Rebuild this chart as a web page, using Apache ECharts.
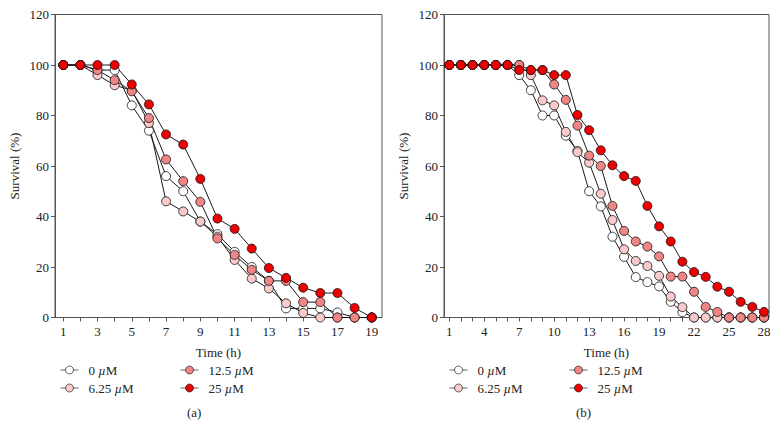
<!DOCTYPE html>
<html>
<head>
<meta charset="utf-8">
<script src="https://cdn.jsdelivr.net/npm/echarts@6/dist/echarts.min.js"></script>
<style>
  html, body { margin: 0; padding: 0; background: #fff; }
  #chart { width: 778px; height: 427px; }
</style>
</head>
<body>
<div id="chart"></div>
<script>
// hours on the x axis
const hoursA = [1, 2, 3, 4, 5, 6, 7, 8, 9, 10, 11, 12, 13, 14, 15, 16, 17, 18, 19]
const hoursB = [1, 2, 3, 4, 5, 6, 7, 8, 9, 10, 11, 12, 13, 14, 15, 16, 17, 18, 19, 20, 21, 22, 23, 24, 25, 26, 27, 28]

// survival (%)
const survA0 = [100, 100, 98, 98, 84, 74, 56, 50, 38, 33, 26, 20, 14.5, 3.6, 3.6, 3.6, 2, 0, 0]
const survA6 = [100, 100, 96, 92, 90, 77, 46, 42, 38, 32, 22.8, 15.4, 11.5, 5.6, 1.8, 0, 0, 0, 0]
const survA12 = [100, 100, 98, 94, 89.6, 79, 62.6, 54, 45.8, 31.3, 24.8, 18.9, 14.5, 14.5, 6.1, 6.1, 0, 0, 0]
const survA25 = [100, 100, 100, 100, 92.3, 84.4, 72.5, 68.5, 54.9, 39.2, 35.1, 27.3, 19.6, 15.7, 11.8, 9.7, 9.7, 3.8, 0]

// survival (%)
const survB0 = [100, 100, 100, 100, 100, 100, 96, 90, 80, 80, 72, 66, 50, 44, 32, 24, 16, 14, 12.3, 6.2, 2.1, 0, 0, 0, 0, 0, 0, 0]
const survB6 = [100, 100, 100, 100, 100, 100, 100, 96, 86, 84, 73.5, 65.5, 61.3, 49, 38.6, 27, 22.4, 20.4, 16.5, 8.3, 4.1, 0, 0, 0, 0, 0, 0, 0]
const survB12 = [100, 100, 100, 100, 100, 100, 100, 98, 98, 92.3, 86.2, 76, 64.1, 60, 44.2, 34.3, 30.1, 28.1, 24.2, 16.2, 16.2, 10.2, 4.2, 2.2, 0, 0, 0, 0]
const survB25 = [100, 100, 100, 100, 100, 100, 98, 98, 98, 96, 96, 80.2, 74.2, 66.2, 60.3, 56, 54.1, 44.2, 36.1, 30.1, 22.1, 18, 16.1, 12.2, 10.2, 6.2, 4.2, 2.2]

const doses = ['0 µM', '6.25 µM', '12.5 µM', '25 µM']
const fills = ['#ffffff', '#f9caca', '#f08585', '#ec0000']

// tick labels
const xTicksA = [1, 3, 5, 7, 9, 11, 13, 15, 17, 19]
const xTicksB = [1, 4, 7, 10, 13, 16, 19, 22, 25, 28]
const yTicks = [0, 20, 40, 60, 80, 100, 120]

const font = 'Liberation Serif'
const axisColor = '#555'

const pairs = (xs, ys) => xs.map((x, i) => [x, ys[i]])

const makeXAxis = (gridIndex, min, max, hours, labels) => ({
  type: 'value',
  gridIndex,
  min,
  max,
  name: 'Time (h)',
  nameLocation: 'middle',
  nameGap: 28,
  nameTextStyle: { fontFamily: font, fontSize: 13, fontWeight: 'normal', color: '#222' },
  axisLine: { lineStyle: { color: axisColor } },
  axisTick: { length: 4, lineStyle: { color: axisColor }, customValues: hours },
  axisLabel: { customValues: labels, margin: 7, fontFamily: font, fontSize: 13, color: '#222' },
  splitLine: { show: false }
})

const makeYAxis = (gridIndex) => ({
  type: 'value',
  gridIndex,
  min: yTicks[0],
  max: yTicks[yTicks.length - 1],
  interval: 20,
  name: 'Survival (%)',
  nameLocation: 'middle',
  nameGap: 34,
  nameTextStyle: { fontFamily: font, fontSize: 13, fontWeight: 'normal', color: '#222' },
  axisLine: { show: true, lineStyle: { color: axisColor } },
  axisTick: { show: true, length: 4, lineStyle: { color: axisColor } },
  axisLabel: { margin: 6, fontFamily: font, fontSize: 13, color: '#222' },
  splitLine: { show: false }
})

const makeSeries = (idx, name, xs, ys, color) => ({
  name,
  type: 'line',
  xAxisIndex: idx,
  yAxisIndex: idx,
  data: pairs(xs, ys),
  symbol: 'circle',
  symbolSize: 9,
  itemStyle: { color, borderColor: '#111', borderWidth: 0.8 },
  lineStyle: { color: '#1a1a1a', width: 1 },
  emphasis: { disabled: true },
  animation: false
})

const makeLegend = (left, names) => ({
  left,
  top: 358,
  orient: 'vertical',
  itemWidth: 18,
  itemHeight: 10,
  itemGap: 4,
  selectedMode: false,
  data: names,
  lineStyle: { color: '#666', width: 1 },
  itemStyle: { borderColor: '#222', borderWidth: 0.7 },
  formatter: (n) => n.replace('µ', '{i|µ}'),
  textStyle: {
    fontFamily: font,
    fontSize: 13,
    color: '#222',
    lineHeight: 14,
    padding: [0, 0, 0, 5],
    rich: { i: { fontFamily: font, fontSize: 13, fontStyle: 'italic', color: '#222' } }
  }
})

const chart = echarts.init(document.getElementById('chart'), null, { renderer: 'svg' })

chart.setOption({
  backgroundColor: '#fff',
  animation: false,
  grid: [
    { left: 55, top: 14.5, width: 327, height: 303, show: true, borderColor: axisColor, borderWidth: 1 },
    { left: 444, top: 14.5, width: 325, height: 303, show: true, borderColor: axisColor, borderWidth: 1 }
  ],
  xAxis: [
    makeXAxis(0, 0.52, 19.6, hoursA, xTicksA),
    makeXAxis(1, 0.55, 28.43, hoursB, xTicksB)
  ],
  yAxis: [makeYAxis(0), makeYAxis(1)],
  legend: [
    makeLegend(55, [doses[0], doses[1]]),
    makeLegend(175, [doses[2], doses[3]]),
    makeLegend(444, [doses[0], doses[1]]),
    makeLegend(564, [doses[2], doses[3]])
  ],
  title: [
    { text: '(a)', left: 182, top: 401, textStyle: { fontFamily: font, fontSize: 13, fontWeight: 'normal', color: '#222' } },
    { text: '(b)', left: 571, top: 401, textStyle: { fontFamily: font, fontSize: 13, fontWeight: 'normal', color: '#222' } }
  ],
  series: [
    makeSeries(0, doses[0], hoursA, survA0, fills[0]),
    makeSeries(0, doses[1], hoursA, survA6, fills[1]),
    makeSeries(0, doses[2], hoursA, survA12, fills[2]),
    makeSeries(0, doses[3], hoursA, survA25, fills[3]),
    makeSeries(1, doses[0], hoursB, survB0, fills[0]),
    makeSeries(1, doses[1], hoursB, survB6, fills[1]),
    makeSeries(1, doses[2], hoursB, survB12, fills[2]),
    makeSeries(1, doses[3], hoursB, survB25, fills[3])
  ]
})
</script>
</body>
</html>
